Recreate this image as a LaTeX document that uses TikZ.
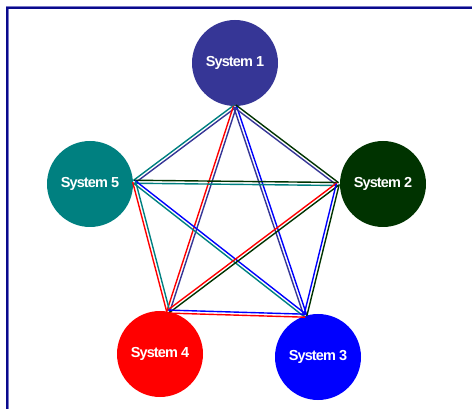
\documentclass[tikz,border=0pt]{standalone}
\usepackage{fontspec}
\setmainfont{Liberation Sans}
\usetikzlibrary{calc}
\definecolor{cOne}{RGB}{54,54,150}
\definecolor{cTwo}{RGB}{0,51,0}
\definecolor{cThree}{RGB}{0,0,255}
\definecolor{cFour}{RGB}{255,0,0}
\definecolor{cFive}{RGB}{0,128,128}
\definecolor{frameNavy}{RGB}{10,10,140}
\definecolor{frameLight}{RGB}{120,120,200}
\newcommand\pairoff{1.5pt}
\newcommand\duo[4]{%
  \draw[edgeline,#3] ($(#1)!\pairoff!90:(#2)$) -- ($(#2)!\pairoff!-90:(#1)$);
  \draw[edgeline,#4] ($(#1)!\pairoff!-90:(#2)$) -- ($(#2)!\pairoff!90:(#1)$);}
\begin{document}
\begin{tikzpicture}[x=1pt,y=1pt,
  sysnode/.style={circle,minimum size=86pt,inner sep=0pt,text=white,
    font=\fontsize{14.5}{15}\selectfont\bfseries\addfontfeature{LetterSpace=-6}},
  edgeline/.style={line width=1.4pt}]
\useasboundingbox (0,0) rectangle (472,-409);
\draw[frameLight,line width=3pt] (7,-8) rectangle (490,-430);
\draw[frameNavy,line width=1.6pt] (7,-8) rectangle (490,-430);
\node[sysnode,fill=cOne]   (s1) at (235,-63)  {System 1};
\node[sysnode,fill=cTwo]   (s2) at (383,-184) {System 2};
\node[sysnode,fill=cThree] (s3) at (318,-357) {System 3};
\node[sysnode,fill=cFour]  (s4) at (160,-354) {System 4};
\node[sysnode,fill=cFive]  (s5) at (90,-184)  {System 5};
\coordinate (a1) at (s1.south);
\coordinate (a2) at ($(s2.west)+(-2,0)$);
\coordinate (a3) at (s3.107);
\coordinate (a4) at (s4.79);
\coordinate (a5) at ($(s5.3)+(1,0)$);
\duo{a1}{a5}{cOne}{cFive}
\duo{a1}{a4}{cOne}{cFour}
\duo{a1}{a3}{cThree}{cOne}
\duo{a1}{a2}{cTwo}{cOne}
\duo{a5}{a2}{cTwo}{cFive}
\duo{a5}{a3}{cThree}{cFive}
\duo{a5}{a4}{cFive}{cFour}
\duo{a2}{a4}{cTwo}{cFour}
\duo{a2}{a3}{cTwo}{cThree}
\duo{a4}{a3}{cThree}{cFour}
\end{tikzpicture}
\end{document}
